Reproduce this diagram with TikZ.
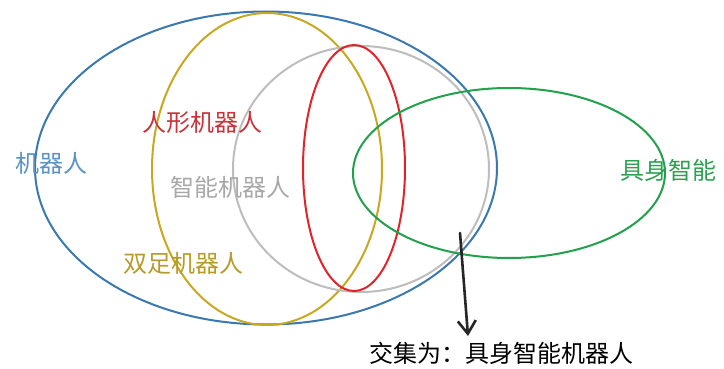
\documentclass[tikz,border=0pt]{standalone}
\usepackage{fontspec}
\newfontfamily\cjk{Noto Sans CJK SC}
\usetikzlibrary{shapes.geometric,arrows.meta}
\definecolor{cblue}{HTML}{3A78B0}
\definecolor{cyellow}{HTML}{C8A820}
\definecolor{cred}{HTML}{E0242C}
\definecolor{cgray}{HTML}{BDBDBD}
\definecolor{cgreen}{HTML}{22A04C}
\definecolor{tblue}{HTML}{5B92C4}
\definecolor{tred}{HTML}{C8323A}
\definecolor{tgray}{HTML}{A8A8A8}
\definecolor{tyellow}{HTML}{B89A28}
\definecolor{tgreen}{HTML}{2AA050}
\tikzset{
  setell/.style={ellipse, draw=#1, line width=2pt, inner sep=0pt},
  lab/.style={font=\cjk\fontsize{24}{28}\selectfont, inner sep=0pt},
}
\begin{document}
\begin{tikzpicture}[x=1pt,y=-1pt]
\useasboundingbox (0,0) rectangle (724,369);
\node[setell=cblue, minimum width=462pt, minimum height=313pt] (robot) at (266,168) {};
\node[setell=cyellow, minimum width=230pt, minimum height=312pt] (biped) at (267,169) {};
\node[setell=cgray, minimum width=256pt, minimum height=246pt] (smart) at (361,169) {};
\node[setell=cred, minimum width=102pt, minimum height=246pt] (humanoid) at (354,168) {};
\node[setell=cgreen, minimum width=312pt, minimum height=170pt] (embodied) at (509,173) {};
\node[lab, text=tblue, anchor=west] (lrobot) at (15,163) {机器人};
\node[lab, text=tred, anchor=west] (lhum) at (142,122) {人形机器人};
\node[lab, text=tgray, anchor=west] (lsmart) at (170,187) {智能机器人};
\node[lab, text=tyellow, anchor=west] (lbiped) at (123,263) {双足机器人};
\node[lab, text=tgreen, anchor=west] (lemb) at (620,170) {具身智能};
\node[lab, text=black, anchor=west] (inter) at (369,353) {交集为：具身智能机器人};
\coordinate (astart) at (460,233);
\coordinate (aend) at (468,336);
\draw[line width=2.6pt, draw=black!85, line cap=round, -{Straight Barb[length=13pt,width=18pt,line width=2.6pt]}] (astart) -- (aend);
\end{tikzpicture}
\end{document}
